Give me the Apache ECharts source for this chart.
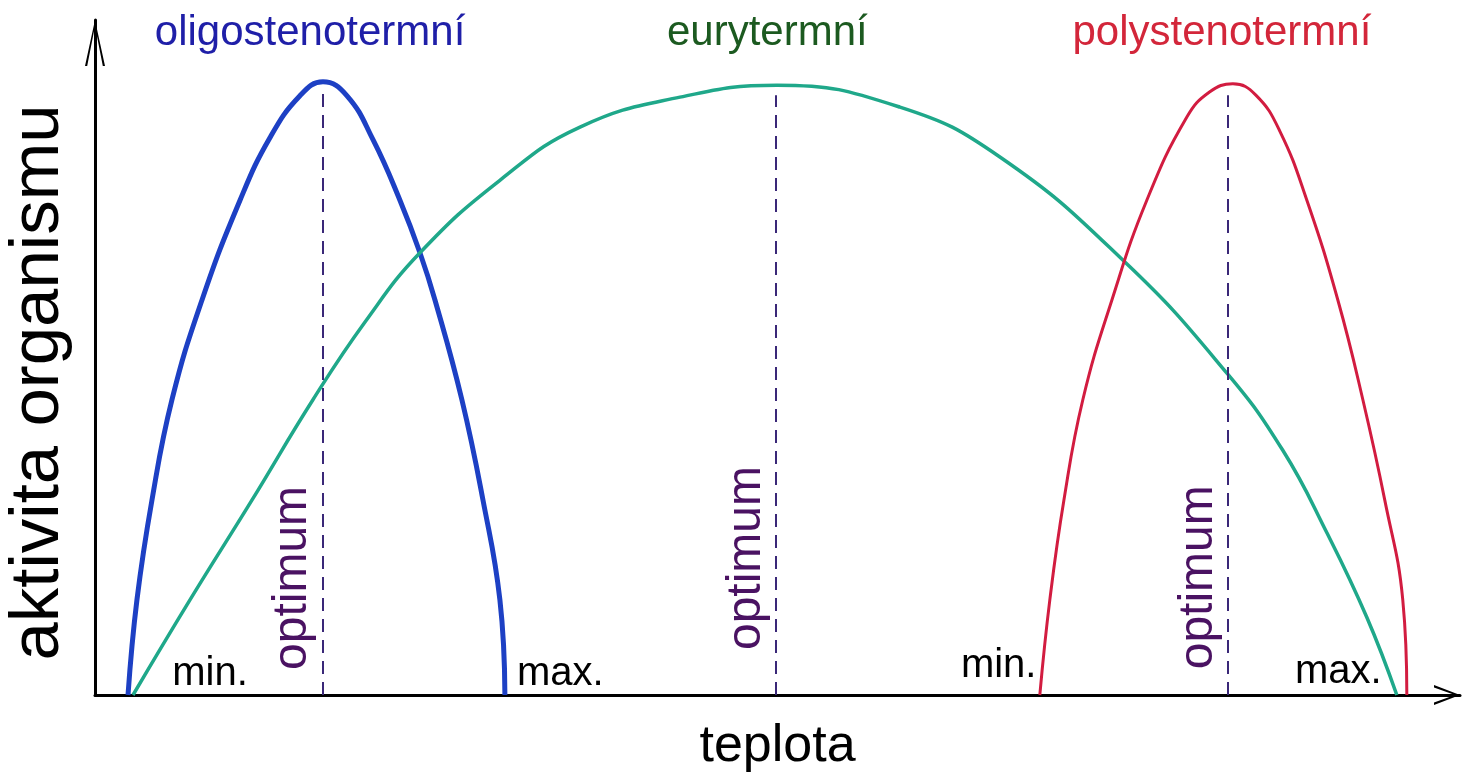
<!DOCTYPE html>
<html>
<head>
	<meta charset="utf-8"/>
	<title>teplota - aktivita organismu</title>
	<style>
		html, body {
			margin: 0;
			padding: 0;
			background: #fff;
		}
		#chart {
			width: 1465px;
			height: 784px;
		}
	</style>
</head>
<body>
	<div id="chart"></div>

	<script src="https://cdn.jsdelivr.net/npm/echarts@6/dist/echarts.min.js"></script>
	<script>
		// curves: [teplota, aktivita]
		const oligoCurve = [[2.44, 0], [3.1, 14.3], [4.21, 29.3], [5.69, 44.4], [7.91, 59.4], [10.72, 74.4], [12.93, 83.8], [15.15, 90.1], [16.85, 92.2], [18.63, 90.1], [20.55, 83.5], [22.54, 74.4], [24.02, 66.5], [25.13, 59.4], [27.12, 44.4], [28.68, 29.3], [29.93, 14.3], [30.3, 0]];
		const euryCurve = [[2.81, 0], [7.02, 14.3], [11.6, 29.3], [16.11, 44.4], [19.96, 56.1], [24.02, 66.5], [29.93, 77.4], [35.85, 85.4], [43.24, 89.9], [50.41, 91.7], [59.5, 88.4], [66.89, 80.9], [76.13, 65.1], [83.67, 48.4], [87.8, 36.8], [91.06, 24.4], [94.01, 11.7], [96.23, 0]];
		const polyCurve = [[69.84, 0], [70.58, 14.3], [71.62, 29.3], [73.02, 44.4], [75.17, 59.4], [77.75, 74.4], [80.71, 86.9], [82.41, 90.7], [84.11, 91.9], [85.81, 90.2], [87.58, 84.8], [89.58, 74.4], [91.87, 59.4], [93.72, 44.4], [95.34, 29.3], [96.67, 14.3], [96.97, 0]];

		const curveNames = ['oligostenotermní', 'eurytermní', 'polystenotermní'];
		const optimumX = [16.8, 50.3, 83.7];
		const optimumTop = [91.3, 90.2, 90.2];

		// text positions on the same scale
		const titlePos = [[15.9, 99.5], [49.7, 99.5], [83.3, 99.5]];
		const limitLabels = ['min.', 'max.', 'min.', 'max.'];
		const limitPos = [[8.5, 3.2], [34.4, 3.2], [66.8, 4.4], [91.9, 3.5]];
		const optimumPos = [[14.6, 17.6], [48.2, 20.6], [81.6, 17.7]];

		const curveColors = ['#1d40c4', '#1fa88a', '#d21c40'];
		const titleColors = ['#1f1fa8', '#1c5a20', '#d3263a'];
		const curveWidths = [5, 3.5, 3];
		const dashColor = '#3a2878';
		const font = '"Liberation Sans", Arial, sans-serif';

		const chart = echarts.init(document.getElementById('chart'));

		function curveSeries(i, data) {
			return {
				name: curveNames[i],
				type: 'line',
				data: data,
				smooth: 0.45,
				showSymbol: false,
				silent: true,
				lineStyle: { color: curveColors[i], width: curveWidths[i] },
				markLine: {
					silent: true,
					symbol: 'none',
					label: { show: false },
					lineStyle: { color: dashColor, width: 2, type: [13, 8] },
					data: [[{ coord: [optimumX[i], 0] }, { coord: [optimumX[i], optimumTop[i]] }]]
				}
			};
		}

		// annotation texts
		let notes = [];
		curveNames.forEach(function (name, i) {
			notes.push({
				name: name,
				value: titlePos[i],
				label: { color: titleColors[i], fontSize: 42 }
			});
		});
		limitLabels.forEach(function (name, i) {
			notes.push({
				name: name,
				value: limitPos[i],
				label: { color: '#000', fontSize: 40 }
			});
		});
		optimumPos.forEach(function (pos) {
			notes.push({
				name: 'optimum',
				value: pos,
				label: { color: '#4a1262', fontSize: 48, rotate: 90 }
			});
		});

		const option = {
			animation: false,
			backgroundColor: '#fff',
			textStyle: { fontFamily: font },
			grid: { left: 95, right: 5, top: 20, bottom: 89, containLabel: false, outerBoundsMode: 'none' },
			xAxis: {
				type: 'value',
				min: 0,
				max: 100.9,
				name: 'teplota',
				nameLocation: 'middle',
				nameGap: 26,
				nameTextStyle: { color: '#000', fontSize: 52, fontFamily: font },
				axisLine: {
					lineStyle: { color: '#000', width: 3 },
					symbol: ['none', 'path://M0,26 L10,0 L20,26 L17.6,26 L10,5 L2.4,26 Z'],
					symbolSize: [20, 26],
					symbolOffset: [0, -13]
				},
				axisTick: { show: false },
				axisLabel: { show: false },
				splitLine: { show: false }
			},
			yAxis: {
				type: 'value',
				min: 0,
				max: 101.5,
				name: 'aktivita organismu',
				nameLocation: 'middle',
				nameRotate: 90,
				nameGap: 22,
				nameTextStyle: { color: '#000', fontSize: 69, fontFamily: font, padding: [0, 50, 0, 0] },
				axisLine: {
					lineStyle: { color: '#000', width: 3 },
					symbol: ['none', 'path://M0,46 L10,0 L20,46 L17.8,46 L10,6 L2.2,46 Z'],
					symbolSize: [20, 46],
					symbolOffset: [0, -23]
				},
				axisTick: { show: false },
				axisLabel: { show: false },
				splitLine: { show: false }
			},
			series: [
				curveSeries(0, oligoCurve),
				curveSeries(1, euryCurve),
				curveSeries(2, polyCurve),
				{
					name: 'popisky',
					type: 'scatter',
					symbolSize: 0,
					silent: true,
					clip: false,
					z: 5,
					itemStyle: { opacity: 1 },
					data: notes,
					label: {
						show: true,
						position: 'inside',
						formatter: '{b}',
						fontFamily: font,
						align: 'center',
						verticalAlign: 'middle'
					}
				}
			]
		};

		chart.setOption(option);
	</script>
</body>
</html>
